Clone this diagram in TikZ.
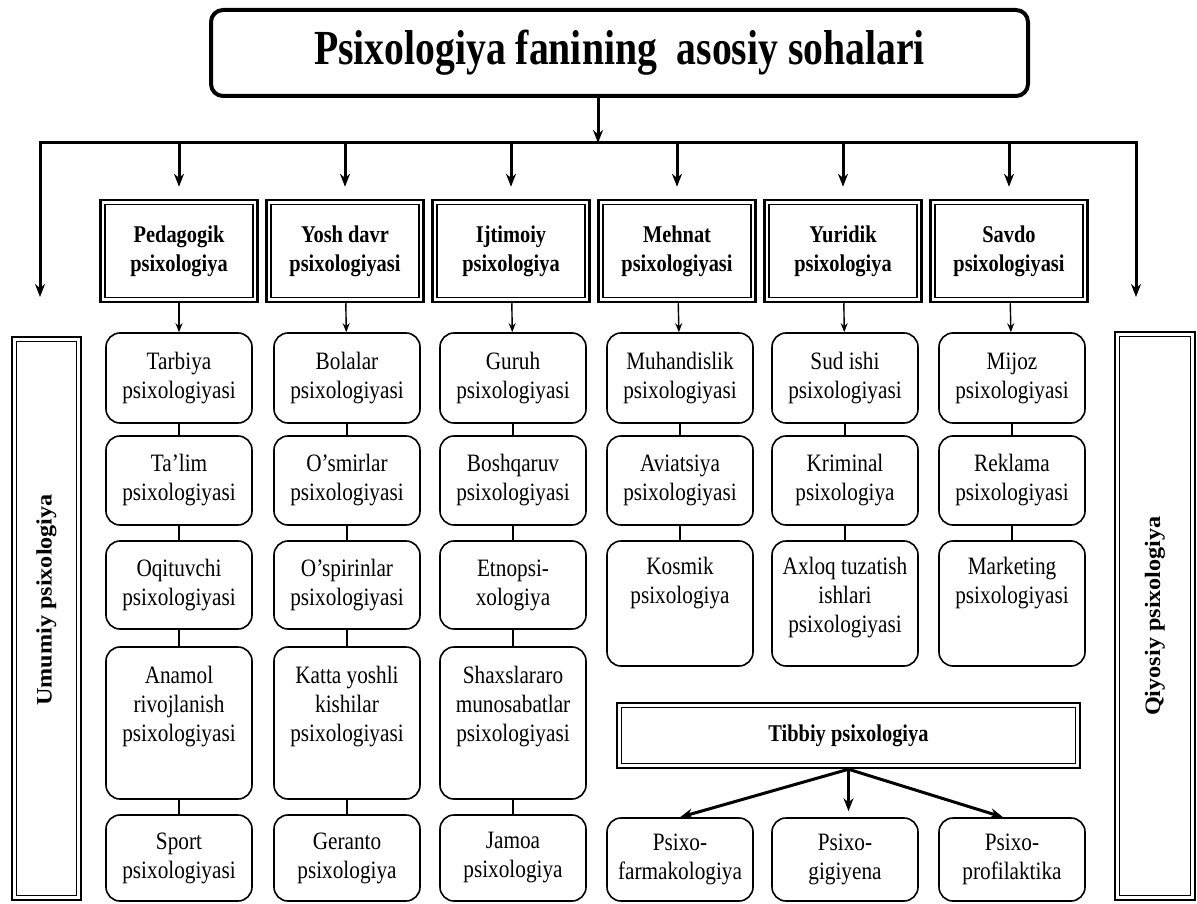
\documentclass[tikz,border=0pt]{standalone}
\usepackage{fontspec}
\usepackage{graphicx}
\setmainfont{Liberation Serif}
\newfontfamily\narrowfont[FakeStretch=0.85]{Liberation Serif}
\newfontfamily\titlefont[FakeStretch=0.81]{Liberation Serif}
\newfontfamily\widefont[FakeStretch=1.1]{Liberation Serif}
\usetikzlibrary{arrows.meta}
\tikzset{
    >=Stealth,
    doubleframe/.style={path picture={\draw[line width=1.2pt] ([shift={(#1,#1)}]path picture bounding box.south west) rectangle ([shift={(-#1,-#1)}]path picture bounding box.north east);}},
    chart/.style={
        x=1pt,y=-1pt,
        topbox/.append style={draw,line width=4pt,rounded corners=12pt,minimum width=817pt,minimum height=86pt,font=\titlefont\bfseries\fontsize{49}{55}\selectfont},
        branch/.append style={draw,line width=2.5pt,doubleframe=4.5pt,minimum width=157pt,minimum height=102pt,align=center,inner sep=0pt,font=\narrowfont\bfseries\fontsize{24}{29}\selectfont},
        leaf/.append style={draw,line width=1.6pt,rounded corners=14pt,text width=144pt,minimum width=146pt,inner sep=0pt,align=flush center,font=\narrowfont\fontsize{25}{29}\selectfont},
        sidebox/.append style={draw,line width=2pt,doubleframe=4.5pt,inner sep=0pt,font=\widefont\bfseries\fontsize{22}{26}\selectfont},
        trunk/.append style={line width=3pt,-{Stealth[length=13pt,width=10pt]}},
        twig/.append style={line width=1.4pt},
        tip/.append style={-{Stealth[length=9pt,width=7pt]}}
    }
}

\begin{document}
\begin{tikzpicture}[chart]
    \useasboundingbox (0,0) rectangle (1197,904);
    % title and the fork under it
    \node[topbox] (main) at (619.5,53) {Psixologiya fanining~ asosiy sohalari};
    \coordinate (fork) at (598,143);
    \coordinate (forkl) at (40,143);
    \coordinate (forkr) at (1136,143);
    \coordinate (endl) at (40,297);
    \coordinate (endr) at (1136,297);

    % branches
    \node[branch] (ped) at (179,251) {Pedagogik\\psixologiya};
    \node[branch] (yosh) at (345,251) {Yosh davr\\psixologiyasi};
    \node[branch] (ijt) at (511,251) {Ijtimoiy\\psixologiya};
    \node[branch] (meh) at (677,251) {Mehnat\\psixologiyasi};
    \node[branch] (yur) at (843,251) {Yuridik\\psixologiya};
    \node[branch] (sav) at (1009,251) {Savdo\\psixologiyasi};

    % side boxes
    \node[sidebox,minimum width=69pt,minimum height=563pt] (umum) at (46.5,618.5) {\rotatebox{90}{\hspace*{37pt}Umumiy psixologiya}};
    \node[sidebox,minimum width=80pt,minimum height=568pt] (qiy) at (1155,616) {\rotatebox{90}{Qiyosiy psixologiya}};

    % Pedagogik
    \node[leaf,minimum height=90pt] (p1) at (179,378) {Tarbiya\\psixologiyasi};
    \node[leaf,minimum height=89pt] (p2) at (179,480.5) {Ta’lim\\psixologiyasi};
    \node[leaf,minimum height=88pt] (p3) at (179,585) {Oqituvchi\\psixologiyasi};
    \node[leaf,text height=36pt,text depth=116pt] (p4) at (179,723) {Anamol\\rivojlanish\\psixologiyasi};
    \node[leaf,minimum height=86pt] (p5) at (179,858) {Sport\\psixologiyasi};

    % Yosh davr
    \node[leaf,minimum height=90pt] (y1) at (347,378) {Bolalar\\psixologiyasi};
    \node[leaf,minimum height=89pt] (y2) at (347,480.5) {O’smirlar\\psixologiyasi};
    \node[leaf,minimum height=88pt] (y3) at (347,585) {O’spirinlar\\psixologiyasi};
    \node[leaf,text height=36pt,text depth=116pt] (y4) at (347,723) {Katta yoshli\\kishilar\\psixologiyasi};
    \node[leaf,minimum height=86pt] (y5) at (347,858) {Geranto\\psixologiya};

    % Ijtimoiy
    \node[leaf,minimum height=90pt] (i1) at (513,378) {Guruh\\psixologiyasi};
    \node[leaf,minimum height=89pt] (i2) at (513,480.5) {Boshqaruv\\psixologiyasi};
    \node[leaf,minimum height=88pt] (i3) at (513,585) {Etnopsi-\\xologiya};
    \node[leaf,text height=36pt,text depth=116pt] (i4) at (513,723) {Shaxslararo\\munosabatlar\\psixologiyasi};
    \node[leaf,minimum height=86pt] (i5) at (513,858) {Jamoa\\psixologiya};

    % Mehnat
    \node[leaf,minimum height=90pt] (m1) at (680,378) {Muhandislik\\psixologiyasi};
    \node[leaf,minimum height=89pt] (m2) at (680,480.5) {Aviatsiya\\psixologiyasi};
    \node[leaf,text height=33pt,text depth=92pt] (m3) at (680,603.5) {Kosmik\\psixologiya};

    % Yuridik
    \node[leaf,minimum height=90pt] (u1) at (845,378) {Sud ishi\\psixologiyasi};
    \node[leaf,minimum height=89pt] (u2) at (845,480.5) {Kriminal\\psixologiya};
    \node[leaf,text height=33pt,text depth=92pt] (u3) at (845,603.5) {Axloq tuzatish\\ishlari\\psixologiyasi};

    % Savdo
    \node[leaf,minimum height=90pt] (s1) at (1012,378) {Mijoz\\psixologiyasi};
    \node[leaf,minimum height=89pt] (s2) at (1012,480.5) {Reklama\\psixologiyasi};
    \node[leaf,text height=33pt,text depth=92pt] (s3) at (1012,603.5) {Marketing\\psixologiyasi};

    % Tibbiy
    \node[branch,minimum width=463pt,minimum height=65pt] (tib) at (848.5,735.5) {Tibbiy psixologiya};
    \node[leaf,minimum height=83pt] (t1) at (680,859.5) {Psixo-\\farmakologiya};
    \node[leaf,minimum height=83pt] (t2) at (845,859.5) {Psixo-\\gigiyena};
    \node[leaf,minimum height=83pt] (t3) at (1012,859.5) {Psixo-\\profilaktika};

    % connectors
    \draw[trunk] (main.south -| fork) -- (fork);
    \draw[trunk,{Stealth[length=13pt,width=10pt]}-{Stealth[length=13pt,width=10pt]}] (endl) -- (forkl) -- (forkr) -- (endr);
    \draw[trunk] (fork -| ped) -- ([yshift=12pt]ped.north);
    \draw[trunk] (fork -| yosh) -- ([yshift=12pt]yosh.north);
    \draw[trunk] (fork -| ijt) -- ([yshift=12pt]ijt.north);
    \draw[trunk] (fork -| meh) -- ([yshift=12pt]meh.north);
    \draw[trunk] (fork -| yur) -- ([yshift=12pt]yur.north);
    \draw[trunk] (fork -| sav) -- ([yshift=12pt]sav.north);

    \draw[twig,tip] (ped) -- (p1);
    \draw[twig,tip] (yosh) -- (y1);
    \draw[twig,tip] (ijt) -- (i1);
    \draw[twig,tip] (meh) -- (m1);
    \draw[twig,tip] (yur) -- (u1);
    \draw[twig,tip] (sav) -- (s1);

    \draw[twig] (p1) -- (p2) -- (p3) -- (p4) -- (p5);
    \draw[twig] (y1) -- (y2) -- (y3) -- (y4) -- (y5);
    \draw[twig] (i1) -- (i2) -- (i3) -- (i4) -- (i5);
    \draw[twig] (m1) -- (m2) -- (m3);
    \draw[twig] (u1) -- (u2) -- (u3);
    \draw[twig] (s1) -- (s2) -- (s3);

    \draw[trunk] (tib.south) -- (t1.north);
    \draw[trunk] (tib.south) -- ([yshift=6pt]tib.south |- t2.north);
    \draw[trunk] (tib.south) -- ([xshift=-9pt]t3.north);
\end{tikzpicture}
\end{document}
